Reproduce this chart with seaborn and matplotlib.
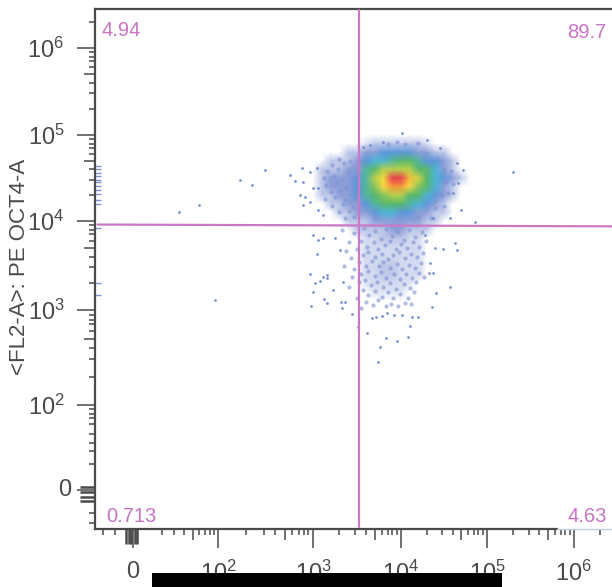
import numpy as np
import pandas as pd
import matplotlib
matplotlib.use("Agg")
import matplotlib.pyplot as plt
from matplotlib.patches import Rectangle
from matplotlib.transforms import ScaledTranslation
import seaborn as sns

# ─── axis layout: decades -> position along the axis (biexponential-ish) ───
X_DEC = [0.55, 1, 2, 3, 4, 5, 6, 6.44]
X_POS = [95, 133, 218, 313, 401, 487, 574, 612]
Y_DEC = [0.53, 1, 2, 3, 4, 5, 6, 6.45]
Y_POS = [0, 39, 124, 219, 308, 394, 481, 520]

X_TICKS = [1, 2, 3, 4, 5, 6]
X_LABELS = ["0", r"$\mathregular{10^{2}}$", r"$\mathregular{10^{3}}$", r"$\mathregular{10^{4}}$",
            r"$\mathregular{10^{5}}$", r"$\mathregular{10^{6}}$"]
Y_TICKS = [1, 2, 3, 4, 5, 6]
Y_LABELS = X_LABELS

X_NEAR_ZERO = [0.65, 0.79, 0.92, 0.95, 0.98, 1.02, 1.05, 1.34, 1.48, 1.6, 1.7, 1.78, 1.85, 1.9, 1.95]
Y_NEAR_ZERO = [0.6, 0.72, 0.87, 0.92, 0.97, 1.04, 1.31, 1.46, 1.55, 1.66, 1.78, 1.85, 1.9, 1.95]
DECADE_MINOR = [0.30, 0.48, 0.60, 0.70, 0.78, 0.85, 0.90, 0.95]

# quadrant gates, decades
GATE_X = 3.52
QUADRANTS = ["4.94", "89.7", "0.713", "4.63"]

DENS_X = [2.9, 3.0, 3.1, 3.2, 3.3, 3.4, 3.5, 3.6, 3.7, 3.8, 3.9, 4.0, 4.1, 4.2, 4.3, 4.4, 4.5, 4.6, 4.7, 4.8, 4.9]
DENS_Y = [5.0, 4.9, 4.8, 4.7, 4.6, 4.5, 4.4, 4.3, 4.2, 4.1, 4.0, 3.9, 3.8, 3.7, 3.6, 3.5, 3.4, 3.3, 3.2, 3.1, 3.0, 2.9]
DENSITY = [
    [0, 0, 0, 0, 0, 0, 0, 0, 0, 0, 0, 0, 0, 0, 0, 0, 0, 0, 0, 0, 0],
    [0, 0, 0, 0, 0, 0, 0, 0.5, 1, 1, 1, 1, 1, 1, 0.5, 0, 0, 0, 0, 0, 0],
    [0, 0, 0, 0, 0, 1, 1, 2, 2, 3, 3, 3, 3, 2, 2, 1, 1, 0, 0, 0, 0],
    [0, 0, 0, 1, 1, 1, 2, 3, 4, 4, 4.5, 5, 5, 4.5, 3, 3, 2, 1, 0, 0, 0],
    [0, 0, 1, 1, 1, 2, 2, 4.5, 5, 6, 6, 6, 6, 5, 5, 4, 2, 1, 0, 0, 0],
    [0, 0, 1, 2, 2, 2, 3, 4.5, 6, 7, 9, 9, 7.5, 6.5, 5, 4, 3, 2, 1, 0, 0],
    [0, 0, 1, 2, 2, 2, 3, 4.5, 5.5, 7, 8, 8, 7, 5.5, 5, 4, 2, 1, 0, 0, 0],
    [0, 0, 1, 1, 2, 2, 3, 4.5, 5, 5.5, 6, 6, 5, 5, 4, 3, 2, 1, 0, 0, 0],
    [0, 0, 0, 1, 1, 2, 2, 3, 4.5, 5, 5, 5, 4.5, 4, 3, 2, 1, 0, 0, 0, 0],
    [0, 0, 0, 0, 1, 1, 2, 2, 3, 4, 4, 3, 3, 2, 2, 1, 1, 0, 0, 0, 0],
    [0, 0, 0, 0, 0, 1, 1, 1, 2, 2, 2, 2, 2, 2, 1, 1, 0, 0, 0, 0, 0],
    [0, 0, 0, 0, 0, 0, 1, 1, 1, 1, 2, 2, 1, 1, 1, 0, 0, 0, 0, 0, 0],
    [0, 0, 0, 0, 0, 0, 0, 0.7, 0.7, 1, 1, 1, 0.7, 0.7, 0, 0, 0, 0, 0, 0, 0],
    [0, 0, 0, 0, 0, 0, 0, 0.7, 0.7, 0.7, 0.7, 0.7, 0.7, 0.7, 0, 0, 0, 0, 0, 0, 0],
    [0, 0, 0, 0, 0, 0, 0, 0.7, 0.7, 0.7, 0.7, 0.7, 0.7, 0.7, 0, 0, 0, 0, 0, 0, 0],
    [0, 0, 0, 0, 0, 0, 0, 0.7, 0.7, 1, 1, 0.7, 0.7, 0.7, 0, 0, 0, 0, 0, 0, 0],
    [0, 0, 0, 0, 0, 0, 0, 0.7, 0.7, 1, 1, 0.7, 0.7, 0.7, 0, 0, 0, 0, 0, 0, 0],
    [0, 0, 0, 0, 0, 0, 0, 0.5, 0.7, 0.7, 0.7, 0.7, 0.5, 0, 0, 0, 0, 0, 0, 0, 0],
    [0, 0, 0, 0, 0, 0, 0, 0, 0.5, 0.5, 0.5, 0.5, 0, 0, 0, 0, 0, 0, 0, 0, 0],
    [0, 0, 0, 0, 0, 0, 0, 0, 0, 0, 0, 0, 0, 0, 0, 0, 0, 0, 0, 0, 0],
    [0, 0, 0, 0, 0, 0, 0, 0, 0, 0, 0, 0, 0, 0, 0, 0, 0, 0, 0, 0, 0],
    [0, 0, 0, 0, 0, 0, 0, 0, 0, 0, 0, 0, 0, 0, 0, 0, 0, 0, 0, 0, 0],
]
LEVEL_COLORS = ["#ffffff", "#bcc6e8", "#8b9dd8", "#5c97da", "#4db5d6", "#58b76c",
                "#b6d24c", "#f6dc42", "#f39a3c", "#e8404f"]

# mottled events round the blob and in the lower population
MOTTLE_X = [3.30, 3.42, 3.22, 3.35, 3.47, 3.16, 3.28, 3.40, 3.12, 3.24, 3.33, 3.46, 3.15, 3.27, 3.38, 3.20, 3.31, 3.44,
            3.14, 3.25, 3.36, 3.48, 3.22, 3.34, 3.45, 3.30, 3.41, 3.36, 3.47, 4.30, 4.42, 4.50, 4.58, 4.52, 4.60, 4.48,
            4.55, 4.40, 4.50, 3.70, 3.95, 4.20, 4.35, 3.85, 3.95, 4.05, 4.20,
            3.33, 3.47, 3.58, 3.64, 3.70, 3.77, 3.83, 3.90, 3.96, 4.03, 4.09, 4.16, 4.24,
            3.41, 3.55, 3.61, 3.69, 3.74, 3.82, 3.87, 3.94, 4.00, 4.07, 4.14, 4.21, 4.29,
            3.37, 3.50, 3.57, 3.63, 3.71, 3.78, 3.85, 3.91, 3.98, 4.05, 4.12, 4.19, 4.26,
            3.43, 3.52, 3.60, 3.67, 3.75, 3.80, 3.88, 3.95, 4.01, 4.09, 4.16, 4.23,
            3.35, 3.47, 3.55, 3.62, 3.70, 3.77, 3.83, 3.92, 3.99, 4.06, 4.13, 4.21, 4.27,
            3.44, 3.52, 3.59, 3.66, 3.73, 3.80, 3.87, 3.94, 4.03, 4.10, 4.18,
            3.41, 3.57, 3.63, 3.70, 3.78, 3.85, 3.91, 3.99, 4.08, 4.15,
            3.50, 3.60, 3.68, 3.74, 3.83, 3.89, 3.97, 4.05, 3.55, 4.12]
MOTTLE_Y = [4.72, 4.70, 4.65, 4.67, 4.63, 4.58, 4.60, 4.56, 4.50, 4.52, 4.48, 4.51, 4.42, 4.44, 4.40, 4.34, 4.36, 4.33,
            4.26, 4.28, 4.24, 4.27, 4.18, 4.20, 4.16, 4.10, 4.12, 4.03, 4.05, 4.75, 4.73, 4.60, 4.58, 4.45, 4.43, 4.30,
            4.32, 4.15, 4.17, 4.05, 4.03, 4.06, 4.04, 4.90, 4.92, 4.89, 4.91,
            3.90, 3.87, 3.92, 3.84, 3.89, 3.80, 3.91, 3.83, 3.88, 3.79, 3.90, 3.82, 3.88,
            3.76, 3.78, 3.71, 3.76, 3.68, 3.73, 3.77, 3.69, 3.74, 3.70, 3.76, 3.71, 3.77,
            3.66, 3.69, 3.62, 3.65, 3.59, 3.63, 3.57, 3.62, 3.65, 3.58, 3.63, 3.60, 3.64,
            3.58, 3.54, 3.50, 3.55, 3.49, 3.54, 3.47, 3.52, 3.46, 3.51, 3.47, 3.53,
            3.50, 3.46, 3.41, 3.44, 3.38, 3.43, 3.36, 3.40, 3.35, 3.41, 3.36, 3.42, 3.37,
            3.37, 3.31, 3.34, 3.28, 3.32, 3.26, 3.30, 3.24, 3.29, 3.25, 3.31,
            3.26, 3.22, 3.17, 3.21, 3.15, 3.20, 3.13, 3.18, 3.14, 3.20,
            3.14, 3.09, 3.06, 3.11, 3.04, 3.07, 3.05, 3.08, 3.02, 3.07]

# single events away from the blob
LONE_X = [3.05, 2.97, 2.88, 2.81, 2.89, 3.06, 3.00, 2.92, 2.86, 2.97, 2.89, 3.06, 3.11, 2.76, 4.01, 4.30, 4.45,
          4.65, 4.72, 4.66, 4.60, 4.70, 4.57, 4.37, 3.80, 3.65, 3.57, 2.36, 2.23, 2.49, 1.54, 1.97, 5.30, 4.86,
          1.78, 4.63, 4.65, 3.00, 3.06, 3.11, 3.25, 3.05, 3.31, 2.97, 3.11, 3.02, 3.08, 3.16, 3.16, 3.00, 3.13,
          3.16, 2.98, 3.23, 3.34, 3.32, 3.36, 3.33, 3.44, 3.51, 3.61, 3.83, 3.95, 3.76, 4.08, 3.74, 4.10, 4.20,
          4.13, 4.01, 3.92, 3.84, 3.78, 3.72, 3.67, 4.57, 4.41, 4.36, 4.37, 4.33, 4.34, 4.40, 4.49, 4.28]
LONE_Y = [4.62, 4.57, 4.62, 4.47, 4.45, 4.38, 4.38, 4.28, 4.30, 4.22, 4.19, 4.13, 4.07, 4.53, 5.02, 4.94, 4.85,
          4.67, 4.59, 4.44, 4.33, 4.13, 4.03, 4.03, 4.92, 4.88, 4.86, 4.42, 4.48, 4.59, 4.10, 3.11, 4.57, 3.99,
          4.19, 3.75, 3.67, 3.84, 3.79, 3.81, 3.81, 3.63, 3.67, 3.40, 3.37, 3.30, 3.33, 3.39, 3.36, 3.20, 3.12,
          3.08, 3.04, 3.22, 3.31, 3.09, 3.09, 3.02, 2.96, 2.82, 2.76, 2.71, 2.67, 2.61, 2.72, 2.45, 2.83, 2.93,
          2.93, 2.95, 2.95, 2.97, 2.94, 2.93, 2.92, 3.26, 3.19, 3.03, 3.42, 3.42, 3.53, 3.70, 3.69, 3.84]

# events piled on the y axis
EDGE_X = 0.58
EDGE_Y = [4.64, 4.60, 4.56, 4.52, 4.48, 4.45, 4.41, 4.36, 4.31, 4.25, 4.20, 3.92, 3.30, 3.17]

# ─── figure ────────────────────────────────────────────────────────
sns.set_theme(style="white")
plt.rcParams["font.family"] = ["Liberation Sans", "DejaVu Sans"]
plt.rcParams["mathtext.fontset"] = "custom"
plt.rcParams["mathtext.rm"] = "Liberation Sans"

INK = "#4a4a4a"
GATE = "#c878c4"

fig = plt.figure(figsize=(6.12, 5.87), dpi=100)
ax = fig.add_axes([95 / 612, (587 - 529) / 587, 517 / 612, 520 / 587])
ax.set_xscale("function", functions=(lambda v: np.interp(v, X_DEC, X_POS), lambda p: np.interp(p, X_POS, X_DEC)))
ax.set_yscale("function", functions=(lambda v: np.interp(v, Y_DEC, Y_POS), lambda p: np.interp(p, Y_POS, Y_DEC)))

cmap = sns.blend_palette(LEVEL_COLORS, n_colors=64, as_cmap=True)
ax.pcolormesh(DENS_X, DENS_Y, np.array(DENSITY, dtype=float), shading="gouraud", cmap=cmap, vmin=0, vmax=9, zorder=1)

sns.scatterplot(x=MOTTLE_X, y=MOTTLE_Y, s=9, color="#7f92d2", alpha=0.6, linewidth=0, ax=ax, zorder=2)
sns.scatterplot(x=LONE_X, y=LONE_Y, s=4, color="#6f86cc", alpha=0.9, linewidth=0, ax=ax, zorder=2)
sns.scatterplot(x=[EDGE_X] * len(EDGE_Y), y=EDGE_Y, s=22, marker="_", color="#7f92d2", linewidth=1, ax=ax, zorder=2)

ax.axvline(GATE_X, ymin=0.004, ymax=0.998, color=GATE, lw=1.6, zorder=3)
ax.plot([0.58, 6.44], [3.96, 3.94], color=GATE, lw=1.6, zorder=3)

ax.set_xlim(X_DEC[0], X_DEC[-1])
ax.set_ylim(Y_DEC[0], Y_DEC[-1])
ax.set_xlabel("")
ax.set_ylabel("")

x_minor = X_NEAR_ZERO + [d + m for d in range(2, 7) for m in DECADE_MINOR if d + m < 6.42]
y_minor = Y_NEAR_ZERO + [d + m for d in range(2, 7) for m in DECADE_MINOR if d + m < 6.42]
ax.set_xticks(X_TICKS, X_LABELS, fontsize=17, color=INK)
ax.set_yticks(Y_TICKS, Y_LABELS, fontsize=17, color=INK)
ax.set_xticks(x_minor, minor=True)
ax.set_yticks(y_minor, minor=True)
ax.tick_params(axis="x", which="major", length=14, width=1.1, color=INK, pad=9, bottom=True)
ax.tick_params(axis="y", which="major", length=13, width=1.1, color=INK, pad=9, left=True)
ax.tick_params(axis="both", which="minor", length=4, width=1.1, color=INK, bottom=True, left=True)


def medium_ticks(axis, minors):
    # 5x ticks are longer, and the ones round zero are the heavy comb
    for tick, v in zip(axis.get_minor_ticks(), minors):
        frac = round(v % 1, 2)
        if frac == 0.70:
            tick.tick1line.set_markersize(8)
        if 0.85 < v < 1.07:
            tick.tick1line.set_markersize(11)
            tick.tick1line.set_markeredgewidth(1.8)


medium_ticks(ax.xaxis, x_minor)
medium_ticks(ax.yaxis, y_minor)

# x axis fades out past the 4.63 label
for tick, v in zip(ax.xaxis.get_minor_ticks(), x_minor):
    if v > 5.8:
        tick.tick1line.set_color("#8a93a8")
ax.xaxis.get_major_ticks()[-1].tick1line.set_color("#8a93a8")

# the y axis zero sits a little closer to the axis than the powers
zero_lab = ax.yaxis.get_major_ticks()[0].label1
zero_lab.set_transform(zero_lab.get_transform() + ScaledTranslation(7 / 100, 2 / 100, fig.dpi_scale_trans))

for side in ["top", "left", "bottom"]:
    ax.spines[side].set_color(INK)
    ax.spines[side].set_linewidth(1.6)
ax.spines["right"].set_visible(False)
ax.spines["bottom"].set_bounds(X_DEC[0], 5.8)
ax.plot([5.8, 6.44], [Y_DEC[0], Y_DEC[0]], color="#c4cce0", lw=1, clip_on=False, zorder=3)

label_kw = dict(color="#c873c4", fontsize=14.5, va="center")
fig.text(102 / 612, 1 - 31 / 587, QUADRANTS[0], ha="left", **label_kw)
fig.text(606 / 612, 1 - 33 / 587, QUADRANTS[1], ha="right", **label_kw)
fig.text(106 / 612, 1 - 516 / 587, QUADRANTS[2], ha="left", **label_kw)
fig.text(607 / 612, 1 - 516 / 587, QUADRANTS[3], ha="right", **label_kw)

fig.text(20 / 612, 1 - 267 / 587, "<FL2-A>: PE OCT4-A", rotation=90, ha="center", va="center",
         fontsize=16, color=INK)

# black bar over the x axis title, as in the source
fig.add_artist(Rectangle((152 / 612, 0), 350 / 612, 14 / 587, transform=fig.transFigure,
                         facecolor="black", edgecolor="none", zorder=10))

fig.savefig("out.png", dpi=100)
